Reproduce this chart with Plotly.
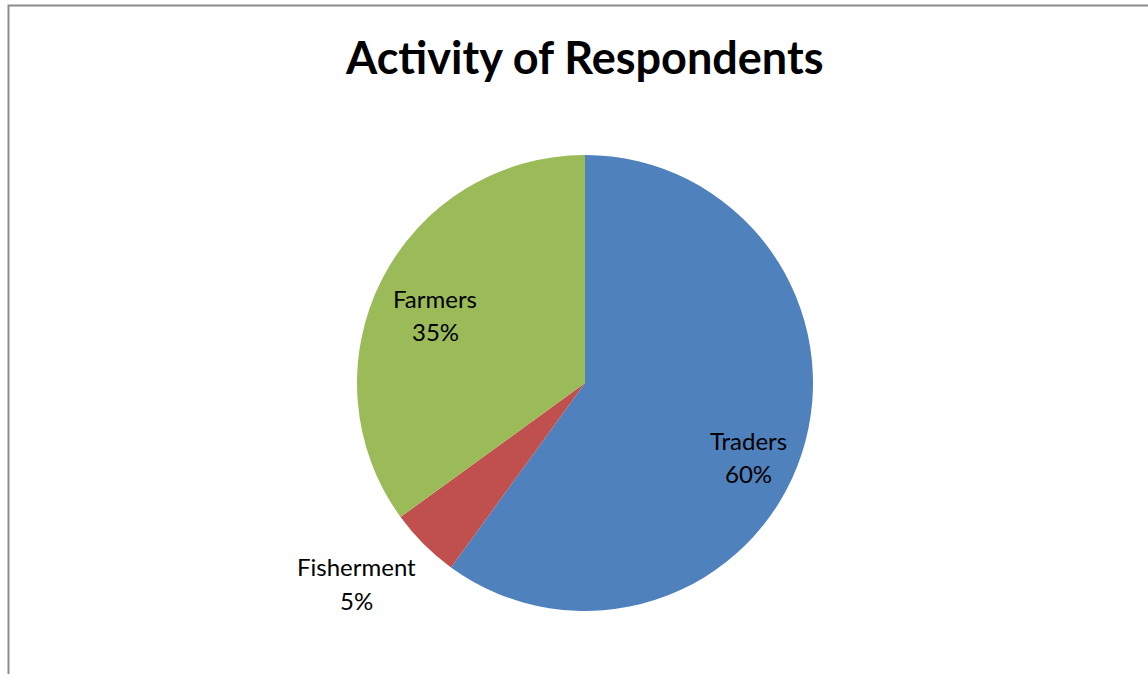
import plotly.graph_objects as go

labels = ["Traders", "Fisherment", "Farmers"]
values = [60, 5, 35]
colors = ["#4F81BD", "#C0504D", "#9BBB59"]

W, H = 1148, 674

def px(x):
    return x / W

def py(y):
    return 1 - y / H

fig = go.Figure(go.Pie(
    labels=labels, values=values, sort=False, direction="clockwise", rotation=0,
    marker=dict(colors=colors, line=dict(width=0)),
    textinfo="none", hoverinfo="label+percent", showlegend=False,
    domain=dict(x=[px(357), px(813)], y=[py(611), py(155)]),
))

total = sum(values)
pct = [f"{round(v * 100 / total)}%" for v in values]
label_pos = {"Traders": (748, 440, 473), "Fisherment": (356, 566, 600), "Farmers": (435, 298, 331)}
font = "Lato, Open Sans, sans-serif"
ann = []
for lab, p in zip(labels, pct):
    x, y1, y2 = label_pos[lab]
    ann.append(dict(text=lab, x=px(x), y=py(y1), xref="paper", yref="paper", showarrow=False,
                    xanchor="center", yanchor="middle", font=dict(family=font, size=24, color="#000")))
    ann.append(dict(text=p, x=px(x), y=py(y2), xref="paper", yref="paper", showarrow=False,
                    xanchor="center", yanchor="middle", font=dict(family=font, size=24, color="#000")))

ann.append(dict(text="<b>Activity of Respondents</b>", x=px(584), y=py(57), xref="paper", yref="paper",
                showarrow=False, xanchor="center", yanchor="middle",
                font=dict(family=font, size=45, color="#000")))

fig.update_layout(
    width=W, height=H, margin=dict(l=0, r=0, t=0, b=0),
    paper_bgcolor="white", plot_bgcolor="white",
    annotations=ann,
    shapes=[dict(type="rect", xref="paper", yref="paper", x0=px(8.5), y0=-0.05, x1=1.05, y1=py(5.5),
                 line=dict(color="#8c8c8c", width=2), fillcolor="rgba(0,0,0,0)")],
)

fig.write_html("out.html")
